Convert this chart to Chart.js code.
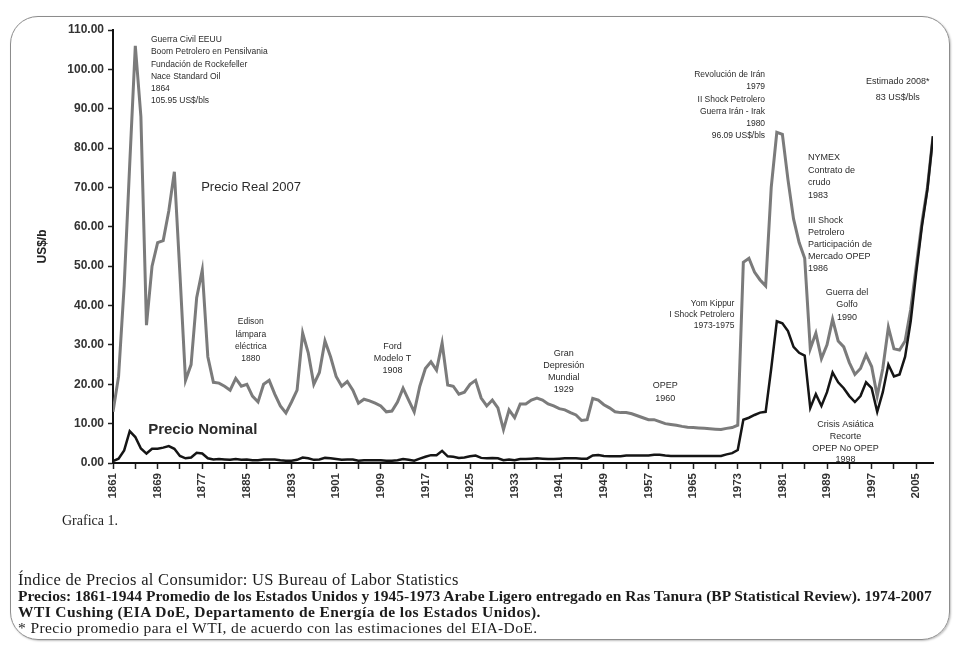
<!DOCTYPE html>
<html>
<head>
<meta charset="utf-8">
<script src="https://cdn.jsdelivr.net/npm/chart.js@4.4.0/dist/chart.umd.min.js"></script>
<style>
  html, body { margin: 0; padding: 0; background: #fff; }
  #wrap { position: relative; width: 953px; height: 647px; overflow: hidden; }
  #frame { position: absolute; left: 10px; top: 16px; width: 940px; height: 624px; box-sizing: border-box;
           border: 1.5px solid #8c8c8c; border-radius: 28px; box-shadow: 1px 1px 2px rgba(0,0,0,0.25); }
  canvas { position: absolute; left: 0; top: 0; }
  .foot { position: absolute; font-family: "Liberation Serif", "Times New Roman", serif; color: #1c1c1c; white-space: nowrap; }
</style>
</head>
<body>
<div id="wrap">
  <div id="frame"></div>
  <canvas id="oilChart" width="953" height="647"></canvas>
  <div class="foot" style="left:62px; top:513px; font-size:14px;">Grafica 1.</div>
  <div class="foot" style="left:18px; top:570px; font-size:16.5px; letter-spacing:0.3px;">Índice de Precios al Consumidor: US Bureau of Labor Statistics</div>
  <div class="foot" style="left:18px; top:587px; font-size:15.5px; font-weight:bold;">Precios: 1861-1944 Promedio de los Estados Unidos y 1945-1973 Arabe Ligero entregado en Ras Tanura (BP Statistical Review). 1974-2007</div>
  <div class="foot" style="left:18px; top:603px; font-size:15.5px; font-weight:bold; letter-spacing:0.4px;">WTI Cushing (EIA DoE, Departamento de Energía de los Estados Unidos).</div>
  <div class="foot" style="left:18px; top:619px; font-size:15.5px; letter-spacing:0.4px;">* Precio promedio para el WTI, de acuerdo con las estimaciones del EIA-DoE.</div>
</div>
<script>
const firstYear = 1861;
const lastYear = 2008;

// US$/barril en dólares de 2007, un valor por año (1861-2008)
const realPrice = [
  13, 22, 45, 76, 106, 88, 35, 50, 56, 56.5,
  64, 74, 48, 21, 25, 42, 49, 27, 20.5, 20.3,
  19.5, 18.5, 21.5, 19.5, 20, 17, 15.5, 20, 21, 17.5,
  14.5, 12.7, 15.5, 18.5, 33, 28, 20, 23, 31, 27,
  22, 19.5, 20.7, 18.5, 15.2, 16.2, 15.8, 15.2, 14.5, 13,
  13.2, 15.5, 19, 16, 13, 19.5, 24, 25.7, 23.6, 30.5,
  19.8, 19.5, 17.5, 18, 20, 21, 16.5, 14.5, 16, 14,
  8.5, 13.5, 11.5, 15, 15, 16, 16.5, 16, 15, 14.5,
  13.8, 13.5, 12.8, 12.2, 10.8, 11, 16.4, 16, 14.8, 14,
  13, 12.8, 12.8, 12.5, 12, 11.5, 11, 11, 10.5, 10,
  9.8, 9.6, 9.3, 9.1, 9, 8.9, 8.8, 8.7, 8.6, 8.5,
  8.8, 9, 9.6, 51, 52, 48.5, 46.5, 45, 70, 84,
  83.5, 72, 62, 56, 52, 29, 33, 26.5, 30, 36.5,
  31, 29.5, 25.5, 22.5, 24, 27.5, 24.5, 17, 24, 34.5,
  29, 28.7, 31, 39, 50, 61, 70, 83
];

// US$/barril corrientes
const nominalPrice = [
  0.5, 1.1, 3.2, 8.1, 6.6, 3.7, 2.4, 3.6, 3.6, 3.9,
  4.3, 3.6, 1.8, 1.2, 1.4, 2.6, 2.4, 1.2, 0.9, 1,
  0.9, 0.8, 1, 0.8, 0.9, 0.7, 0.7, 0.9, 0.9, 0.9,
  0.7, 0.6, 0.6, 0.8, 1.4, 1.2, 0.8, 0.9, 1.3, 1.2,
  1, 0.8, 0.9, 0.9, 0.6, 0.7, 0.7, 0.7, 0.7, 0.6,
  0.6, 0.7, 1, 0.8, 0.6, 1.1, 1.6, 2, 2, 3.1,
  1.7, 1.6, 1.3, 1.4, 1.7, 1.9, 1.3, 1.2, 1.3, 1.2,
  0.7, 0.9, 0.7, 1, 1, 1.1, 1.2, 1.1, 1, 1,
  1.1, 1.2, 1.2, 1.2, 1.1, 1.1, 1.9, 2, 1.8, 1.7,
  1.7, 1.7, 1.9, 1.9, 1.9, 1.9, 1.9, 2.1, 2.1, 1.9,
  1.8, 1.8, 1.8, 1.8, 1.8, 1.8, 1.8, 1.8, 1.8, 1.8,
  2.2, 2.5, 3.3, 11, 11.5, 12.2, 12.8, 13, 24, 36,
  35.5, 33.5, 29.5, 28, 27.3, 14, 17.5, 14.5, 18, 23,
  20.5, 19, 17, 15.5, 17, 20.5, 19, 13, 18, 25,
  22, 22.5, 27, 36, 48.5, 60, 69.5, 83
];

const tickStep = 4;   // marcas del eje x
const labelStep = 8;  // años rotulados

// textos del gráfico, anclados en coordenadas de datos (año, US$)
const notes = [
  { year: 1867.8, value: 107.5, align: 'left', size: 8.5, gap: 12.2,
    lines: ['Guerra Civil EEUU', 'Boom Petrolero en Pensilvania', 'Fundación de Rockefeller', 'Nace Standard Oil', '1864', '105.95 US$/bls'] },
  { year: 1876.8, value: 69.9, align: 'left', size: 13, gap: 0, lines: ['Precio Real 2007'] },
  { year: 1867.3, value: 8.4, align: 'left', size: 15, bold: true, gap: 0, lines: ['Precio Nominal'] },
  { year: 1885.7, value: 35.8, align: 'center', size: 8.5, gap: 12.3, lines: ['Edison', 'lámpara', 'eléctrica', '1880'] },
  { year: 1911.1, value: 29.7, align: 'center', size: 9, gap: 12, lines: ['Ford', 'Modelo T', '1908'] },
  { year: 1941.8, value: 27.9, align: 'center', size: 9, gap: 12, lines: ['Gran', 'Depresión', 'Mundial', '1929'] },
  { year: 1960, value: 19.8, align: 'center', size: 9, gap: 13, lines: ['OPEP', '1960'] },
  { year: 1972.4, value: 40.4, align: 'right', size: 8.5, gap: 11, lines: ['Yom Kippur', 'I Shock Petrolero', '1973-1975'] },
  { year: 1977.9, value: 98.6, align: 'right', size: 8.5, gap: 12.2,
    lines: ['Revolución de Irán', '1979', 'II Shock Petrolero', 'Guerra Irán - Irak', '1980', '96.09 US$/bls'] },
  { year: 1985.6, value: 77.5, align: 'left', size: 9, gap: 12.5, lines: ['NYMEX', 'Contrato de', 'crudo', '1983'] },
  { year: 1985.6, value: 61.7, align: 'left', size: 9, gap: 12, lines: ['III Shock', 'Petrolero', 'Participación de', 'Mercado OPEP', '1986'] },
  { year: 1992.6, value: 43.4, align: 'center', size: 9, gap: 12.5, lines: ['Guerra del', 'Golfo', '1990'] },
  { year: 1992.3, value: 9.7, align: 'center', size: 9, gap: 11.7, lines: ['Crisis Asiática', 'Recorte', 'OPEP No OPEP', '1998'] },
  { year: 2001.7, value: 97, align: 'center', size: 9, gap: 16, lines: ['Estimado 2008*', '83 US$/bls'] }
];

const years = [];
for (let yr = firstYear; yr <= lastYear; yr++) years.push(yr);
const tickYears = [];
for (let yr = firstYear; yr <= lastYear; yr += tickStep) tickYears.push(yr);

const notesPlugin = {
  id: 'notes',
  afterDatasetsDraw(chart) {
    const { ctx, scales: { x, y } } = chart;
    ctx.save();
    ctx.fillStyle = '#2b2b2b';
    ctx.textBaseline = 'middle';
    notes.forEach(n => {
      ctx.font = (n.bold ? 'bold ' : '') + n.size + 'px "Liberation Sans", Arial, sans-serif';
      ctx.textAlign = n.align;
      const px = x.getPixelForValue(n.year);
      const py = y.getPixelForValue(n.value);
      n.lines.forEach((line, i) => ctx.fillText(line, px, py + i * n.gap));
    });
    ctx.restore();
  }
};

Chart.defaults.font.family = '"Liberation Sans", Arial, sans-serif';

new Chart(document.getElementById('oilChart'), {
  type: 'line',
  data: {
    datasets: [
      {
        label: 'Precio Nominal',
        data: years.map((yr, i) => ({ x: yr, y: nominalPrice[i] })),
        borderColor: '#151515',
        borderWidth: 2.5,
        pointRadius: 0,
        order: 0
      },
      {
        label: 'Precio Real 2007',
        data: years.map((yr, i) => ({ x: yr, y: realPrice[i] })),
        borderColor: '#7b7b7b',
        borderWidth: 3,
        pointRadius: 0,
        order: 1
      }
    ]
  },
  options: {
    responsive: false,
    animation: false,
    layout: { padding: { left: 35, top: 30, right: 20, bottom: 134 } },
    plugins: {
      legend: { display: false },
      tooltip: { enabled: false }
    },
    scales: {
      x: {
        type: 'linear',
        min: firstYear,
        max: lastYear,
        afterBuildTicks: axis => { axis.ticks = tickYears.map(v => ({ value: v })); },
        afterFit: scale => { scale.height = 50; },
        border: { color: '#111', width: 2 },
        grid: { drawOnChartArea: false, tickLength: 6, tickColor: '#222', tickWidth: 1.5 },
        ticks: {
          autoSkip: false,
          minRotation: 90,
          maxRotation: 90,
          padding: 4,
          color: '#333',
          font: { size: 11.5, weight: 'bold' },
          callback: v => ((v - firstYear) % labelStep === 0 ? String(v) : '')
        }
      },
      y: {
        min: 0,
        max: 110,
        afterFit: scale => { scale.width = 78; },
        border: { color: '#111', width: 2 },
        grid: { drawOnChartArea: false, tickLength: 5, tickColor: '#222', tickWidth: 1.5 },
        title: { display: true, text: 'US$/b', color: '#222', font: { size: 12, weight: 'bold' }, padding: 0 },
        ticks: {
          stepSize: 10,
          padding: 4,
          color: '#333',
          font: { size: 12, weight: 'bold' },
          callback: v => v.toFixed(2)
        }
      }
    }
  },
  plugins: [notesPlugin]
});
</script>
</body>
</html>
